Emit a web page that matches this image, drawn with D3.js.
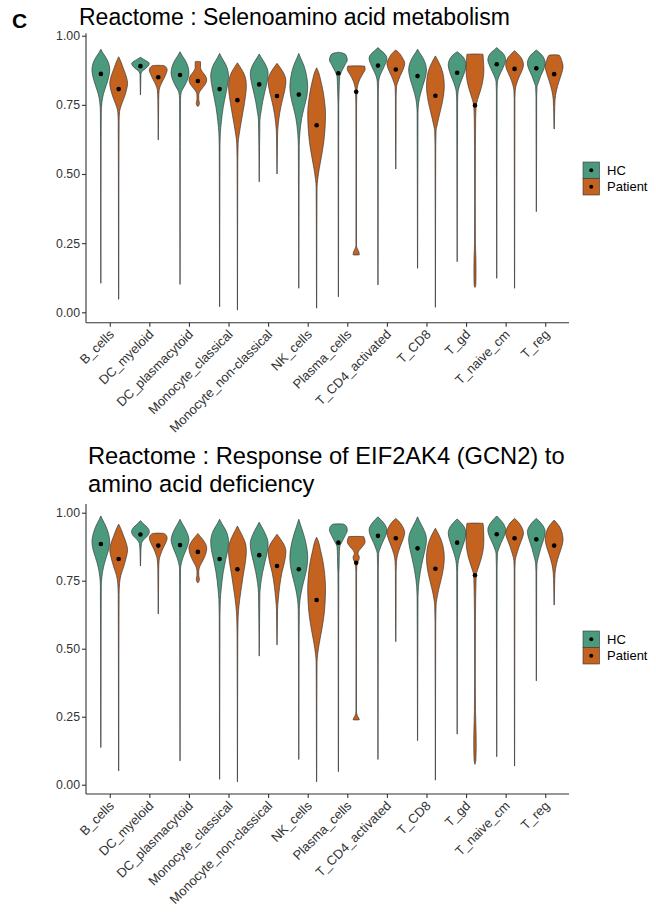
<!DOCTYPE html>
<html>
<head>
<meta charset="utf-8">
<script src="https://cdn.jsdelivr.net/npm/d3@7"></script>
<style>
  body { margin: 0; background: #fff; }
  text { font-family: "Liberation Sans", Arial, sans-serif; }
</style>
</head>
<body>
<svg id="fig" width="656" height="913"></svg>
<script>
var cellTypes = ["B_cells", "DC_myeloid", "DC_plasmacytoid", "Monocyte_classical",
    "Monocyte_non-classical", "NK_cells", "Plasma_cells", "T_CD4_activated",
    "T_CD8", "T_gd", "T_naive_cm", "T_reg"];
var groups = ["HC", "Patient"];
var yTicks = [0, 0.25, 0.5, 0.75, 1];

// violin outlines: [score, relative half width]
var selenoHC = [
    [[.951,0],[.94,.18],[.925,.5],[.9,.88],[.876,1],[.85,.88],[.82,.6],[.79,.3],[.76,.12],[.72,.05],[.6,.03],[.3,.02],[.105,.01]],
    [[.922,0],[.915,.35],[.905,.85],[.9,1],[.89,.85],[.878,.45],[.87,.15],[.86,.05],[.82,.03],[.786,.01]],
    [[.942,0],[.93,.2],[.91,.6],[.885,.92],[.864,1],[.84,.82],[.815,.45],[.797,.15],[.77,.05],[.6,.03],[.3,.02],[.101,.01]],
    [[.936,0],[.92,.25],[.895,.7],[.87,.95],[.855,1],[.83,.93],[.79,.7],[.74,.4],[.69,.2],[.648,.08],[.6,.04],[.3,.02],[.02,.01]],
    [[.934,0],[.92,.25],[.895,.72],[.864,1],[.84,.93],[.8,.65],[.76,.38],[.72,.18],[.695,.08],[.6,.04],[.472,.01]],
    [[.936,0],[.92,.2],[.89,.6],[.85,.9],[.816,1],[.78,.9],[.74,.6],[.7,.32],[.648,.12],[.6,.05],[.4,.03],[.2,.02],[.087,.01]],
    [[.94,0],[.938,.4],[.93,.85],[.912,1],[.895,.75],[.87,.35],[.852,.15],[.82,.1],[.797,.08],[.75,.04],[.5,.03],[.2,.02],[.056,.01]],
    [[.957,0],[.948,.3],[.935,.75],[.918,1],[.9,.85],[.875,.5],[.855,.22],[.834,.08],[.8,.04],[.5,.03],[.2,.02],[.099,.01]],
    [[.951,0],[.94,.2],[.92,.6],[.895,.92],[.876,1],[.85,.88],[.82,.6],[.79,.33],[.757,.12],[.72,.05],[.5,.03],[.159,.01]],
    [[.942,0],[.935,.3],[.92,.75],[.894,1],[.87,.85],[.84,.5],[.815,.22],[.797,.1],[.76,.05],[.5,.03],[.183,.01]],
    [[.957,0],[.948,.3],[.935,.75],[.912,1],[.895,.85],[.87,.5],[.85,.22],[.834,.08],[.8,.04],[.5,.03],[.123,.01]],
    [[.948,0],[.94,.3],[.925,.75],[.9,1],[.88,.85],[.855,.5],[.83,.22],[.816,.08],[.78,.04],[.6,.03],[.364,.01]]
];
var selenoPatient = [
    [[.924,0],[.91,.2],[.88,.55],[.85,.88],[.828,1],[.8,.85],[.77,.55],[.745,.25],[.725,.1],[.69,.05],[.5,.03],[.2,.02],[.047,.01]],
    [[.893,0],[.892,.6],[.885,.9],[.876,1],[.86,.85],[.84,.55],[.82,.25],[.804,.1],[.77,.05],[.7,.03],[.623,.01]],
    [[.907,0],[.906,.3],[.885,.3],[.87,.5],[.855,.85],[.84,1],[.825,.85],[.81,.5],[.797,.2],[.785,.1],[.77,.1],[.755,.18],[.745,.05]],
    [[.902,0],[.89,.25],[.865,.7],[.84,.95],[.816,1],[.78,.9],[.73,.65],[.68,.38],[.64,.18],[.612,.08],[.55,.04],[.3,.02],[.008,.01]],
    [[.9,0],[.885,.35],[.86,.82],[.834,1],[.8,.85],[.76,.55],[.72,.3],[.68,.14],[.641,.06],[.58,.04],[.5,.01]],
    [[.884,0],[.87,.2],[.84,.45],[.8,.72],[.76,.9],[.72,1],[.68,.97],[.62,.82],[.57,.58],[.52,.3],[.48,.12],[.45,.05],[.3,.03],[.1,.02],[.015,.01]],
    [[.891,0],[.89,.95],[.878,1],[.865,.8],[.845,.45],[.822,.18],[.8,.08],[.75,.04],[.5,.03],[.24,.03],[.232,.1],[.22,.28],[.208,.35],[.207,0]],
    [[.948,0],[.94,.3],[.92,.75],[.9,1],[.88,.85],[.855,.5],[.83,.2],[.816,.08],[.78,.04],[.6,.03],[.518,.01]],
    [[.927,0],[.912,.25],[.885,.65],[.85,.93],[.816,1],[.78,.9],[.74,.65],[.7,.35],[.67,.15],[.659,.08],[.6,.04],[.3,.02],[.018,.01]],
    [[.934,0],[.933,.9],[.91,.95],[.876,1],[.84,.9],[.8,.6],[.77,.3],[.743,.12],[.7,.08],[.6,.05],[.4,.04],[.25,.05],[.2,.1],[.15,.12],[.1,.1],[.09,0]],
    [[.946,0],[.937,.3],[.92,.75],[.894,1],[.875,.85],[.85,.5],[.825,.22],[.804,.08],[.77,.04],[.5,.03],[.087,.01]],
    [[.931,0],[.93,.55],[.91,.85],[.888,1],[.865,.85],[.835,.55],[.8,.25],[.768,.1],[.72,.05],[.663,.02]]
];
var selenoMeanHC = [.862, .89, .858, .807, .824, .787, .864, .892, .854, .866, .897, .882];
var selenoMeanPatient = [.807, .85, .836, .767, .782, .676, .797, .878, .783, .748, .88, .861];

var gcn2HC = [
    [[.988,0],[.975,.18],[.955,.5],[.92,.88],[.893,1],[.865,.88],[.835,.6],[.8,.3],[.765,.12],[.73,.05],[.5,.03],[.2,.02],[.137,.01]],
    [[.971,0],[.96,.3],[.945,.8],[.93,1],[.915,.8],[.9,.35],[.887,.12],[.86,.05],[.83,.03],[.804,.01]],
    [[.976,0],[.963,.2],[.94,.6],[.915,.92],[.9,1],[.875,.82],[.845,.45],[.815,.15],[.79,.05],[.6,.03],[.3,.02],[.088,.01]],
    [[.976,0],[.96,.25],[.935,.7],[.91,.95],[.893,1],[.865,.93],[.83,.7],[.78,.4],[.72,.18],[.68,.08],[.62,.04],[.3,.02],[.02,.01]],
    [[.965,0],[.95,.25],[.92,.72],[.887,1],[.86,.93],[.82,.65],[.78,.38],[.74,.18],[.704,.08],[.6,.04],[.473,.01]],
    [[.976,0],[.955,.2],[.92,.55],[.88,.85],[.838,1],[.8,.92],[.76,.65],[.72,.35],[.68,.14],[.642,.06],[.5,.03],[.2,.02],[.093,.01]],
    [[.959,0],[.958,.6],[.948,.92],[.936,1],[.915,.75],[.89,.35],[.875,.15],[.84,.1],[.8,.08],[.777,.05],[.6,.03],[.2,.02],[.048,.01]],
    [[.985,0],[.975,.3],[.958,.75],[.936,1],[.915,.85],[.89,.5],[.865,.2],[.851,.08],[.8,.04],[.5,.03],[.093,.01]],
    [[.985,0],[.97,.2],[.945,.6],[.92,.92],[.9,1],[.87,.88],[.83,.6],[.78,.3],[.728,.1],[.69,.05],[.5,.03],[.162,.01]],
    [[.977,0],[.968,.3],[.95,.75],[.924,1],[.9,.85],[.865,.5],[.835,.22],[.814,.1],[.78,.05],[.5,.03],[.186,.01]],
    [[.988,0],[.978,.3],[.96,.75],[.936,1],[.915,.85],[.89,.5],[.865,.2],[.851,.08],[.8,.04],[.5,.03],[.103,.01]],
    [[.979,0],[.97,.3],[.952,.75],[.93,1],[.905,.85],[.87,.5],[.835,.22],[.814,.08],[.78,.04],[.6,.03],[.382,.01]]
];
var gcn2Patient = [
    [[.958,0],[.945,.2],[.915,.55],[.885,.88],[.863,1],[.835,.85],[.8,.55],[.77,.25],[.74,.1],[.7,.05],[.5,.03],[.2,.02],[.051,.01]],
    [[.925,0],[.924,.6],[.917,.9],[.906,1],[.89,.85],[.87,.55],[.845,.25],[.826,.1],[.79,.05],[.7,.03],[.628,.01]],
    [[.924,0],[.912,.3],[.895,.7],[.869,1],[.845,.85],[.82,.5],[.801,.2],[.785,.1],[.77,.1],[.755,.18],[.743,.05]],
    [[.951,0],[.935,.25],[.905,.7],[.88,.95],[.857,1],[.82,.9],[.77,.65],[.71,.38],[.66,.18],[.618,.08],[.55,.04],[.3,.02],[.011,.01]],
    [[.921,0],[.905,.35],[.88,.82],[.857,1],[.82,.85],[.78,.55],[.73,.3],[.68,.14],[.642,.06],[.58,.04],[.514,.01]],
    [[.91,0],[.895,.2],[.86,.45],[.82,.72],[.77,.92],[.72,1],[.68,.97],[.62,.82],[.57,.58],[.52,.3],[.48,.12],[.45,.05],[.3,.03],[.1,.02],[.011,.01]],
    [[.913,0],[.912,.85],[.893,1],[.875,.7],[.86,.3],[.848,.2],[.838,.35],[.826,.3],[.815,.1],[.78,.04],[.5,.03],[.27,.03],[.256,.1],[.245,.28],[.239,.35],[.238,0]],
    [[.979,0],[.97,.3],[.95,.75],[.926,1],[.905,.85],[.875,.5],[.845,.2],[.82,.08],[.78,.04],[.6,.03],[.526,.01]],
    [[.943,0],[.928,.25],[.9,.65],[.865,.93],[.832,1],[.795,.9],[.755,.65],[.715,.35],[.68,.15],[.661,.08],[.6,.04],[.3,.02],[.017,.01]],
    [[.962,0],[.961,.9],[.935,.97],[.9,1],[.86,.9],[.82,.6],[.79,.3],[.771,.14],[.72,.1],[.691,.08],[.6,.05],[.4,.04],[.27,.06],[.2,.12],[.14,.14],[.09,.1],[.075,0]],
    [[.979,0],[.97,.3],[.95,.75],[.924,1],[.905,.85],[.875,.5],[.845,.22],[.826,.08],[.79,.04],[.5,.03],[.069,.01]],
    [[.973,0],[.962,.3],[.94,.75],[.9,1],[.875,.85],[.845,.55],[.81,.25],[.777,.1],[.73,.05],[.661,.02]]
];
var gcn2MeanHC = [.885, .92, .881, .83, .844, .792, .89, .915, .869, .89, .921, .902];
var gcn2MeanPatient = [.83, .879, .856, .792, .804, .679, .816, .906, .794, .77, .906, .879];

var fillColor = { HC: "#4b9a7e", Patient: "#c4621f" };
var svg = d3.select("#fig");

svg.append("text")
    .attr("x", 12).attr("y", 28)
    .style("font-size", "21px").style("font-weight", "bold")
    .text("C");

function drawPanel(cfg) {
    var g = svg.append("g");
    // ggplot-style discrete axis: 0.6 units of expansion each side
    var x = d3.scalePoint().domain(cellTypes).range([86 + 0.6 * cfg.unit, 569 - 0.6 * cfg.unit]);
    var y = d3.scaleLinear().domain(cfg.yDomain).range([cfg.bottom, cfg.top]);
    var dodge = d3.scaleBand().domain(groups).range([-0.45 * cfg.unit, 0.45 * cfg.unit]);
    var halfW = dodge.bandwidth() / 2;

    // title
    cfg.title.forEach(function (line, i) {
        g.append("text")
            .attr("x", cfg.titleX).attr("y", cfg.titleY + i * 28)
            .style("font-size", cfg.titleSize + "px").style("fill", "#000")
            .text(line);
    });

    // violins
    var sets = { HC: cfg.hc, Patient: cfg.patient };
    var means = { HC: cfg.meanHC, Patient: cfg.meanPatient };
    groups.forEach(function (grp) {
        cellTypes.forEach(function (ct, i) {
            var cx = x(ct) + dodge(grp) + halfW;
            var area = d3.area()
                .curve(d3.curveMonotoneY)
                .y(function (d) { return y(d[0]); })
                .x0(function (d) { return cx - d[1] * halfW; })
                .x1(function (d) { return cx + d[1] * halfW; });
            g.append("path")
                .attr("d", area(sets[grp][i]))
                .attr("fill", fillColor[grp])
                .attr("stroke", "#333")
                .attr("stroke-width", 0.65);
            g.append("circle")
                .attr("cx", cx).attr("cy", y(means[grp][i]))
                .attr("r", 2.3).attr("fill", "#000");
        });
    });

    // axes
    var yAxis = g.append("g")
        .attr("transform", "translate(86,0)")
        .call(d3.axisLeft(y).tickValues(yTicks).tickFormat(d3.format(".2f")).tickSizeOuter(0).tickSize(4));
    var xAxis = g.append("g")
        .attr("transform", "translate(0," + cfg.bottom + ")")
        .call(d3.axisBottom(x).tickSizeOuter(0).tickSize(4));
    [yAxis, xAxis].forEach(function (a) {
        a.select(".domain").attr("stroke", "#333").attr("stroke-width", 1.1);
        a.selectAll(".tick line").attr("stroke", "#333").attr("stroke-width", 1.1);
        a.selectAll("text").style("fill", "#333")
            .style("font-family", "'Liberation Sans', Arial, sans-serif");
    });
    xAxis.select(".domain").attr("d", "M86,0H569");
    yAxis.select(".domain").attr("d", "M0," + cfg.bottom + "V" + cfg.top);
    yAxis.selectAll("text").attr("x", -6).style("font-size", "12.3px");
    xAxis.selectAll("text")
        .style("font-size", "13px")
        .attr("text-anchor", "end")
        .attr("dy", "0.71em")
        .attr("transform", "translate(-2,6) rotate(-45)")
        .attr("y", 0).attr("x", 0);

    // legend
    var leg = g.append("g").attr("transform", "translate(583," + cfg.legendY + ")");
    groups.forEach(function (grp, i) {
        leg.append("rect")
            .attr("x", 0).attr("y", i * 16.5)
            .attr("width", 16.5).attr("height", 16.5)
            .attr("fill", fillColor[grp])
            .attr("stroke", "#333").attr("stroke-width", 0.6);
        leg.append("circle")
            .attr("cx", 8.25).attr("cy", i * 16.5 + 8.25)
            .attr("r", 2).attr("fill", "#000");
        leg.append("text")
            .attr("x", 24).attr("y", i * 16.5 + 8.25)
            .attr("dy", "0.35em")
            .style("font-size", "13px").style("fill", "#000")
            .text(grp);
    });
}

drawPanel({
    unit: 39.6, top: 33.3, bottom: 322.7, yDomain: [-0.0376, 1.0087],
    title: ["Reactome : Selenoamino acid metabolism"], titleX: 79, titleY: 25, titleSize: 23,
    hc: selenoHC, patient: selenoPatient, meanHC: selenoMeanHC, meanPatient: selenoMeanPatient,
    legendY: 162
});
drawPanel({
    unit: 39.6, top: 504, bottom: 794, yDomain: [-0.034, 1.032],
    title: ["Reactome : Response of EIF2AK4 (GCN2) to", "amino acid deficiency"], titleX: 88, titleY: 464, titleSize: 23.7,
    hc: gcn2HC, patient: gcn2Patient, meanHC: gcn2MeanHC, meanPatient: gcn2MeanPatient,
    legendY: 631
});
</script>
</body>
</html>
